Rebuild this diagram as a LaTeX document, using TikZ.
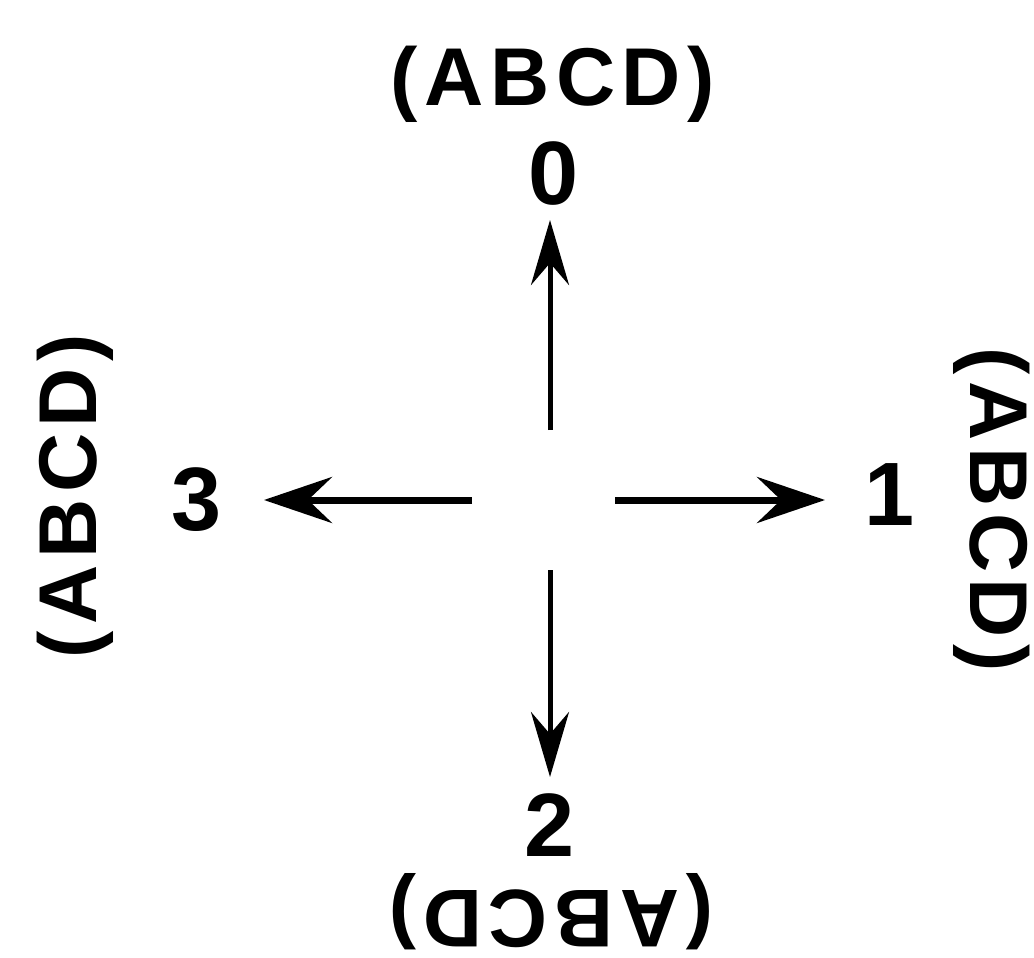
\documentclass[tikz,border=0pt]{standalone}
\usepackage{fontspec}
\setmainfont{Liberation Sans}
\usetikzlibrary{arrows.meta}
\begin{document}
\begin{tikzpicture}[x=1pt,y=-1pt,
  lbl/.style={inner sep=0pt, font=\fontsize{82}{82}\selectfont\bfseries\addfontfeature{LetterSpace=8}},
  num/.style={inner sep=0pt, font=\fontsize{90}{90}\selectfont\bfseries},
  harr/.style={line width=7pt, -{Stealth[length=68pt,width=46pt,inset=24pt]}},
  varr/.style={line width=5pt, -{Stealth[length=65pt,width=38pt,inset=22pt]}}]
\useasboundingbox (0,0) rectangle (1034,958);
% labels
\node[lbl] (top) at (553,84) {(ABCD)};
\node[num] (n0) at (554,174) {0};
\node[lbl, rotate=-90] (right) at (992,510) {(ABCD)};
\node[num] (n1) at (890,495) {1};
\node[lbl, rotate=180] (bottom) at (551,912) {(ABCD)};
\node[num] (n2) at (550,825) {2};
\node[lbl, rotate=90] (left) at (75,496) {(ABCD)};
\node[num] (n3) at (197,500) {3};
% arrow ends
\coordinate (s0) at (550,430);
\coordinate (t0) at (550,220);
\coordinate (s1) at (615,500);
\coordinate (t1) at (825,500);
\coordinate (s2) at (550,570);
\coordinate (t2) at (550,777);
\coordinate (s3) at (472,500);
\coordinate (t3) at (264,500);
\draw[varr] (s0) -- (t0);
\draw[harr] (s1) -- (t1);
\draw[varr] (s2) -- (t2);
\draw[harr] (s3) -- (t3);
\end{tikzpicture}
\end{document}
